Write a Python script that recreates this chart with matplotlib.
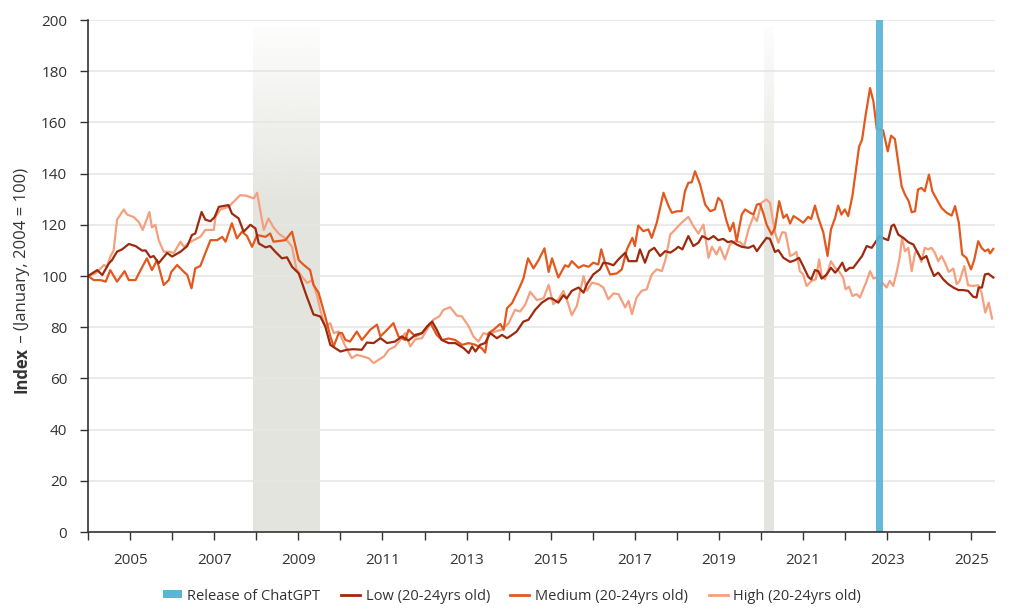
import numpy as np
import matplotlib
matplotlib.use('Agg')
import matplotlib.pyplot as plt
from matplotlib.lines import Line2D
from matplotlib.patches import Patch
from matplotlib import rcParams

rcParams['font.family'] = ['Open Sans', 'DejaVu Sans']
rcParams['font.size'] = 10.5

# Index values (decimal years)
low_t = [2004.00, 2004.22, 2004.34, 2004.50, 2004.57, 2004.69, 2004.81, 2004.97, 2005.13, 2005.29,
         2005.37, 2005.48, 2005.56, 2005.68, 2005.88, 2006.00, 2006.20, 2006.36, 2006.47, 2006.55,
         2006.70, 2006.79, 2006.91, 2007.01, 2007.11, 2007.34, 2007.42, 2007.58, 2007.70, 2007.86,
         2007.98, 2008.06, 2008.22, 2008.33, 2008.45, 2008.61, 2008.73, 2008.85, 2009.01, 2009.20,
         2009.36, 2009.52, 2009.64, 2009.76, 2009.88, 2010.00, 2010.16, 2010.31, 2010.51, 2010.63,
         2010.79, 2010.95, 2011.11, 2011.30, 2011.46, 2011.62, 2011.78, 2011.94, 2012.06, 2012.18,
         2012.29, 2012.41, 2012.57, 2012.73, 2012.93, 2013.05, 2013.13, 2013.21, 2013.32, 2013.44,
         2013.56, 2013.72, 2013.84, 2013.96, 2014.08, 2014.19, 2014.35, 2014.47, 2014.63, 2014.79,
         2014.95, 2015.03, 2015.18, 2015.30, 2015.38, 2015.50, 2015.66, 2015.78, 2015.86, 2016.01,
         2016.17, 2016.25, 2016.37, 2016.49, 2016.61, 2016.77, 2016.85, 2017.04, 2017.12, 2017.24,
         2017.34, 2017.46, 2017.60, 2017.72, 2017.84, 2017.96, 2018.03, 2018.13, 2018.27, 2018.39,
         2018.51, 2018.60, 2018.75, 2018.87, 2018.98, 2019.10, 2019.21, 2019.30, 2019.42, 2019.54,
         2019.70, 2019.82, 2019.90, 2020.01, 2020.13, 2020.21, 2020.33, 2020.41, 2020.53, 2020.69,
         2020.81, 2020.90, 2021.00, 2021.12, 2021.19, 2021.28, 2021.36, 2021.44, 2021.56, 2021.66,
         2021.76, 2021.83, 2021.93, 2022.01, 2022.11, 2022.19, 2022.31, 2022.40, 2022.51, 2022.63,
         2022.71, 2022.82, 2022.94, 2023.02, 2023.10, 2023.16, 2023.26, 2023.38, 2023.50, 2023.62,
         2023.72, 2023.81, 2023.93, 2024.01, 2024.11, 2024.21, 2024.33, 2024.45, 2024.57, 2024.69,
         2024.80, 2024.92, 2025.04, 2025.12, 2025.17, 2025.25, 2025.32, 2025.40, 2025.52]
low_v = [100, 102.3, 100.4, 105, 106.2, 109.5, 110.4, 112.5, 111.7, 109.9,
         110, 107.3, 107.8, 105, 109, 107.6, 109.5, 111.7, 116, 116.6,
         125, 122, 121.4, 123, 127, 127.7, 124.4, 122.5, 117.3, 120,
         118.6, 112.7, 111.2, 111.7, 109.5, 106.9, 107.3, 103.6, 101, 92,
         85, 84.2, 80.3, 73.1, 71.8, 70.5, 71.2, 71.4, 71.2, 74,
         73.8, 75.7, 73.8, 74.4, 76.4, 74.8, 77, 77.7, 80.3, 82.2,
         79, 75, 73.8, 73.8, 71.8, 69.9, 72.5, 70.5, 73.1, 73.8,
         77.7, 75.7, 77, 75.7, 77, 78.3, 82.2, 82.9, 86.8, 89.6,
         91.3, 91.2, 89.6, 92.5, 91.2, 94.2, 95.5, 93.5, 96.8, 100.6,
         102.6, 105.2, 104.9, 104.2, 106.5, 109.1, 105.8, 105.8, 110.4, 105.2,
         109.7, 111, 107.8, 109.7, 109.1, 110.4, 111.4, 110.4, 115.6, 111.7,
         113, 115.6, 114.3, 115.6, 114, 114.5, 113.2, 113.6, 112.3, 111.4,
         111, 111.9, 109.7, 112.3, 114.9, 114.5, 109.4, 110.1, 107.1, 105.5,
         106.2, 107.1, 103.9, 99.7, 98.7, 102.3, 101.9, 99, 100.6, 103.2,
         101.3, 102.6, 105.2, 101.9, 103.2, 103.2, 105.8, 107.8, 111.7, 111,
         113, 115.6, 114.5, 114, 119.5, 120.1, 116.2, 114.9, 113.2, 112.3,
         109.1, 106.5, 107.8, 103.9, 100, 101.3, 98.7, 96.8, 95.5, 94.5,
         94.5, 94.2, 91.9, 91.6, 95.5, 95.5, 100.6, 100.9, 99.4]

medium_t = [2004.00, 2004.14, 2004.30, 2004.42, 2004.53, 2004.69, 2004.87, 2004.97, 2005.13, 2005.25,
            2005.40, 2005.52, 2005.64, 2005.80, 2005.92, 2005.98, 2006.12, 2006.28, 2006.36, 2006.46,
            2006.55, 2006.67, 2006.91, 2007.07, 2007.19, 2007.27, 2007.42, 2007.54, 2007.66, 2007.78,
            2007.90, 2008.02, 2008.22, 2008.33, 2008.41, 2008.69, 2008.85, 2009.01, 2009.13, 2009.28,
            2009.36, 2009.48, 2009.64, 2009.76, 2009.84, 2009.96, 2010.04, 2010.12, 2010.23, 2010.39,
            2010.51, 2010.71, 2010.87, 2010.95, 2011.11, 2011.26, 2011.38, 2011.54, 2011.62, 2011.78,
            2011.94, 2012.14, 2012.29, 2012.41, 2012.57, 2012.73, 2012.89, 2013.05, 2013.21, 2013.36,
            2013.44, 2013.52, 2013.64, 2013.80, 2013.88, 2013.96, 2014.08, 2014.23, 2014.35, 2014.46,
            2014.59, 2014.71, 2014.85, 2014.95, 2015.03, 2015.18, 2015.34, 2015.42, 2015.50, 2015.66,
            2015.78, 2015.90, 2016.01, 2016.13, 2016.20, 2016.29, 2016.41, 2016.57, 2016.69, 2016.81,
            2016.94, 2017.00, 2017.08, 2017.20, 2017.32, 2017.40, 2017.52, 2017.68, 2017.80, 2017.88,
            2018.00, 2018.11, 2018.19, 2018.27, 2018.35, 2018.43, 2018.55, 2018.67, 2018.79, 2018.90,
            2018.98, 2019.06, 2019.18, 2019.26, 2019.34, 2019.42, 2019.54, 2019.62, 2019.74, 2019.82,
            2019.90, 2019.97, 2020.05, 2020.13, 2020.25, 2020.33, 2020.43, 2020.53, 2020.61, 2020.69,
            2020.77, 2020.88, 2021.00, 2021.12, 2021.19, 2021.28, 2021.36, 2021.48, 2021.58, 2021.66,
            2021.76, 2021.83, 2021.91, 2021.99, 2022.07, 2022.17, 2022.25, 2022.33, 2022.40, 2022.48,
            2022.59, 2022.67, 2022.75, 2022.90, 2023.01, 2023.09, 2023.18, 2023.26, 2023.34, 2023.42,
            2023.51, 2023.58, 2023.66, 2023.73, 2023.81, 2023.89, 2023.99, 2024.07, 2024.17, 2024.29,
            2024.41, 2024.53, 2024.61, 2024.70, 2024.78, 2024.88, 2024.99, 2025.07, 2025.16, 2025.24,
            2025.32, 2025.40, 2025.44, 2025.52]
medium_v = [100, 98.4, 98.4, 97.8, 102.3, 97.8, 101.9, 98.4, 98.4, 102.3,
            106.9, 102.3, 106.2, 96.5, 98.4, 101.6, 104.3, 101.6, 100.4, 95.2,
            103, 103.9, 114, 114, 115.3, 113.4, 120.6, 114.7, 117.3, 115.6,
            111.4, 116, 115.3, 116.6, 113.4, 114, 117.3, 106.2, 104.3, 102.3,
            96.5, 93.5, 84.2, 76.4, 72.5, 77.7, 77.7, 75, 74.4, 78.3,
            75, 79, 81, 76.4, 79, 81.6, 76.4, 75, 79, 76.4,
            77.7, 81.6, 77, 75, 75.6, 75, 73.1, 73.8, 73.1, 71.8,
            70.1, 77.7, 79, 81.3, 79, 87.4, 89.4, 94.5, 99, 106.9,
            103, 106.2, 110.8, 101.6, 106.9, 99.4, 104.2, 103.6, 105.8, 103.2,
            104.2, 103.6, 105.2, 104.5, 110.4, 105.2, 100.6, 101, 102.6, 110.4,
            114.9, 111.7, 119.7, 117.5, 118.2, 114.9, 120.8, 132.5, 127.3, 124.7,
            125.3, 125.3, 133.1, 136.4, 136.6, 140.9, 135.7, 127.9, 125.3, 126,
            130.5, 129.2, 121.4, 117.5, 120.8, 113.6, 124, 126, 124.7, 124,
            127.9, 128.2, 124.7, 120.1, 116.2, 118.8, 129.2, 122.7, 124, 120.5,
            123.4, 122.3, 120.8, 123.1, 122.3, 127.5, 122.7, 116.9, 107.8, 118.2,
            122.7, 127.5, 124, 126, 123.4, 131.2, 140.9, 150.6, 153.2, 162.3,
            173.4, 168.2, 157.4, 156.9, 148.7, 154.8, 153.5, 144.2, 135.1, 131.8,
            129.2, 124.9, 125.3, 133.8, 134.4, 133.1, 139.6, 133.1, 130.1, 126.6,
            124.7, 123.6, 127.3, 120.8, 108.4, 107.1, 102.6, 106.5, 113.6, 111,
            109.7, 110.4, 108.8, 110.6]

high_t = [2004.00, 2004.18, 2004.38, 2004.45, 2004.53, 2004.61, 2004.69, 2004.85, 2004.93, 2005.09,
          2005.21, 2005.30, 2005.46, 2005.52, 2005.60, 2005.68, 2005.80, 2005.92, 2006.04, 2006.20,
          2006.28, 2006.40, 2006.51, 2006.67, 2006.79, 2006.99, 2007.03, 2007.15, 2007.34, 2007.62,
          2007.78, 2007.94, 2008.02, 2008.18, 2008.29, 2008.41, 2008.53, 2008.69, 2008.85, 2008.95,
          2009.05, 2009.21, 2009.33, 2009.45, 2009.52, 2009.64, 2009.76, 2009.84, 2009.96, 2010.12,
          2010.27, 2010.39, 2010.55, 2010.67, 2010.79, 2010.91, 2011.03, 2011.15, 2011.30, 2011.42,
          2011.54, 2011.66, 2011.78, 2011.94, 2012.10, 2012.21, 2012.35, 2012.45, 2012.61, 2012.77,
          2012.89, 2013.05, 2013.16, 2013.28, 2013.40, 2013.52, 2013.68, 2013.84, 2014.00, 2014.15,
          2014.27, 2014.39, 2014.51, 2014.67, 2014.83, 2014.95, 2015.06, 2015.18, 2015.30, 2015.38,
          2015.50, 2015.62, 2015.78, 2015.86, 2015.98, 2016.13, 2016.25, 2016.37, 2016.49, 2016.61,
          2016.77, 2016.85, 2016.93, 2017.04, 2017.16, 2017.28, 2017.40, 2017.52, 2017.64, 2017.73,
          2017.84, 2017.96, 2018.11, 2018.27, 2018.39, 2018.51, 2018.63, 2018.75, 2018.83, 2018.94,
          2019.02, 2019.14, 2019.26, 2019.38, 2019.50, 2019.60, 2019.70, 2019.82, 2019.90, 2020.01,
          2020.13, 2020.21, 2020.33, 2020.41, 2020.50, 2020.58, 2020.69, 2020.77, 2020.84, 2020.92,
          2021.00, 2021.08, 2021.20, 2021.30, 2021.38, 2021.44, 2021.52, 2021.60, 2021.66, 2021.76,
          2021.85, 2021.95, 2022.01, 2022.09, 2022.17, 2022.27, 2022.35, 2022.43, 2022.51, 2022.59,
          2022.67, 2022.75, 2022.82, 2022.88, 2022.98, 2023.06, 2023.14, 2023.22, 2023.30, 2023.35,
          2023.42, 2023.50, 2023.58, 2023.66, 2023.72, 2023.81, 2023.89, 2023.97, 2024.05, 2024.13,
          2024.21, 2024.29, 2024.37, 2024.46, 2024.57, 2024.65, 2024.72, 2024.83, 2024.92, 2025.04,
          2025.16, 2025.24, 2025.33, 2025.41, 2025.49]
high_v = [100, 101, 104.3, 103.6, 107.5, 110, 122, 126, 124, 123,
          121, 118, 125, 119, 120, 114, 109.5, 109.5, 109, 113.4,
          111.4, 113, 114, 115.3, 118, 118, 123, 126, 127, 131.6,
          131.3, 130.3, 132.5, 118, 122.5, 119, 116.6, 114.7, 111.4, 103,
          100.5, 97.3, 98.4, 92, 86.8, 80.3, 81.6, 77.7, 78.3, 72.5,
          67.9, 69.2, 68.5, 67.9, 66, 67.3, 68.5, 71.2, 72.5, 75,
          77.7, 72.5, 75.3, 75.7, 80.3, 82.9, 84.2, 86.8, 87.8, 84.5,
          84.2, 80.3, 76.4, 74.4, 77.7, 77, 78.3, 79, 81.6, 86.8,
          86.1, 88.7, 93.8, 90.6, 91.3, 96.5, 89, 90.9, 94.2, 90.9,
          84.7, 88.3, 100, 94.2, 97.4, 96.8, 95.5, 90.9, 93.2, 92.9,
          87.7, 90.3, 85.1, 91.6, 94.2, 94.8, 100.6, 102.6, 101.9, 106.5,
          116.2, 118.2, 120.8, 123.1, 119.5, 116.6, 120.1, 107.1, 111.4, 108.4,
          111.4, 106.5, 112.3, 113.6, 113.2, 111.7, 118.2, 123.4, 121.4, 128.6,
          129.9, 128.6, 117, 113, 117.1, 116.9, 107.8, 108.4, 109.4, 101.9,
          100.6, 96.1, 98.1, 98.7, 106.5, 100, 98.7, 102.6, 105.8, 103.2,
          101.9, 99.4, 94.8, 95.8, 92.2, 92.9, 91.6, 94.8, 98.1, 101.9,
          99, 99.4, 94.8, 97.4, 95.5, 98.1, 96.1, 101.3, 107.8, 114.9,
          109.7, 111, 101.9, 109.1, 109.7, 105.5, 111, 110.4, 111, 109.1,
          105.8, 107.8, 105.2, 101.6, 102.9, 96.8, 98.1, 103.9, 96.4, 96.1,
          96.4, 93.5, 85.7, 89.6, 83.4]

recessions = [(2007.92, 2009.50), (2020.08, 2020.30)]
chatgpt = (2022.72, 2022.89)
year_ticks = list(range(2004, 2026))

LOW = '#9e2a0e'
MEDIUM = '#e2581d'
HIGH = '#f4a07f'
BLUE = '#5ab5d6'
SHADE = '#e4e4df'
TXT = '#333333'

fig = plt.figure(figsize=(10.24, 6.10), dpi=100)
ax = fig.add_axes([88 / 1024, 1 - 532 / 610, (995 - 88) / 1024, 512 / 610])

# recession shading with a fade at the top
grad = np.ones((200, 1, 4))
grad[:, 0, :3] = matplotlib.colors.to_rgb(SHADE)
yy = np.linspace(197, 0, 200)
grad[:, 0, 3] = np.clip(0.08 + 0.92 * (197 - yy) / 70, 0, 1)
for x0, x1 in recessions:
    ax.imshow(grad, extent=[x0, x1, 0, 197], aspect='auto', zorder=0.5,
              interpolation='bilinear')

ax.plot(high_t, high_v, color=HIGH, lw=1.6, zorder=3)
ax.plot(medium_t, medium_v, color=MEDIUM, lw=1.6, zorder=3)
ax.plot(low_t, low_v, color=LOW, lw=1.6, zorder=3)

ax.axvspan(chatgpt[0], chatgpt[1], color=BLUE, alpha=0.93, lw=0, zorder=4)

ax.set_xlim(2004, 2025.56)
ax.set_ylim(0, 200)
ax.set_yticks(np.arange(0, 201, 20))
ax.set_xticks(year_ticks)
ax.set_xticklabels([str(y) if y % 2 == 1 else '' for y in year_ticks])
ax.grid(True, axis='y', color='#e6e6e6', lw=1.2)
ax.set_axisbelow(False)
for g in ax.get_ygridlines():
    g.set_zorder(1)
for s in ['top', 'right']:
    ax.spines[s].set_visible(False)
for s in ['left', 'bottom']:
    ax.spines[s].set_color(TXT)
    ax.spines[s].set_linewidth(1.2)
    ax.spines[s].set_zorder(5)
ax.tick_params(axis='both', length=6, width=1, color=TXT, labelcolor=TXT,
               labelsize=11, pad=9)

# y label: bold "Index", regular rest stacked above it
lab1 = fig.text(22 / 1024, 1 - 393 / 610, 'Index', rotation=90, ha='center',
                va='bottom', fontsize=12, fontweight='bold', color=TXT)
ax.annotate(' – (January, 2004 = 100)', xy=(0.5, 1), xycoords=lab1,
            rotation=90, ha='center', va='bottom', fontsize=12, color=TXT,
            annotation_clip=False)

handles = [Patch(facecolor=BLUE, edgecolor='none'),
           Line2D([], [], color=LOW, lw=2),
           Line2D([], [], color=MEDIUM, lw=2),
           Line2D([], [], color=HIGH, lw=2)]
labels = ['Release of ChatGPT', 'Low (20-24yrs old)', 'Medium (20-24yrs old)',
          'High (20-24yrs old)']
leg = fig.legend(handles, labels, loc='center', bbox_to_anchor=(0.5, 1 - 596 / 610),
                 ncol=4, frameon=False, fontsize=10.5, handlelength=1.3,
                 handleheight=0.5, handletextpad=0.4, columnspacing=1.4)
for t in leg.get_texts():
    t.set_color(TXT)

fig.savefig('out.png', dpi=100)
